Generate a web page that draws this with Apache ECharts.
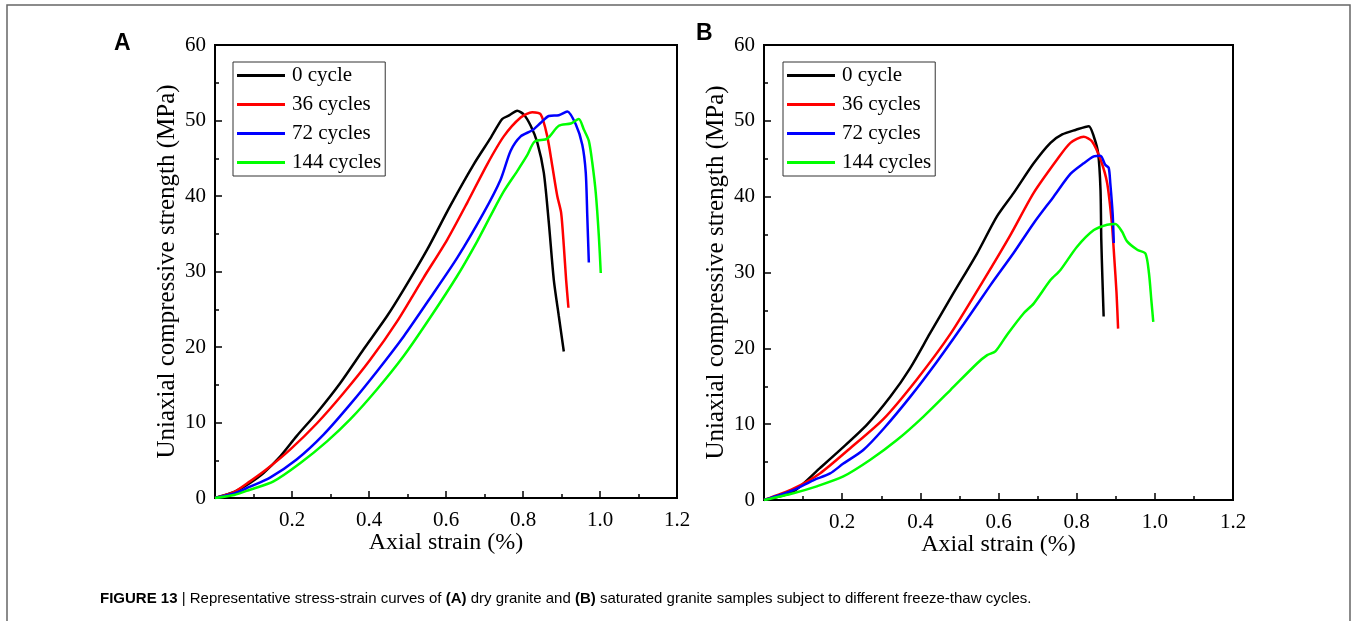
<!DOCTYPE html>
<html>
<head>
<meta charset="utf-8">
<script src="https://cdn.jsdelivr.net/npm/echarts@6/dist/echarts.min.js"></script>
<style>
html,body{margin:0;padding:0;background:#fff;}
#chart{width:1356px;height:621px;}
</style>
</head>
<body>
<div id="chart"></div>
<script>
// ---- Data (strain %, stress MPa) ----
const seriesNames = ['0 cycle', '36 cycles', '72 cycles', '144 cycles'];
const seriesColors = ['#000000', '#ff0000', '#0000ff', '#00ff00'];
const xTicks = [0.2, 0.4, 0.6, 0.8, 1.0, 1.2];
const yTicks = [0, 10, 20, 30, 40, 50, 60];

// Panel A: dry granite
const dry0 = [[0,0],[0.05,0.8],[0.091,2.0],[0.126,3.3],[0.169,5.5],[0.212,8.2],[0.265,11.3],[0.325,15.2],[0.386,19.7],[0.447,24.1],[0.49,27.6],[0.551,32.9],[0.611,38.7],[0.672,44.2],[0.716,47.7],[0.746,50.2],[0.765,50.7],[0.785,51.3],[0.802,50.8],[0.82,49.3],[0.837,47.1],[0.854,43.1],[0.867,36.5],[0.88,28.9],[0.893,24.1],[0.906,19.4]];
const dry36 = [[0,0],[0.05,0.8],[0.091,2.2],[0.134,3.8],[0.195,6.4],[0.265,9.9],[0.334,13.9],[0.403,18.3],[0.473,23.4],[0.542,29.2],[0.603,34.2],[0.655,39.1],[0.707,44.2],[0.75,47.9],[0.794,50.4],[0.824,51.1],[0.846,50.8],[0.863,47.9],[0.876,44.0],[0.889,40.0],[0.899,37.8],[0.906,33.4],[0.912,28.9],[0.918,25.2]];
const dry72 = [[0,0],[0.05,0.6],[0.091,1.5],[0.143,2.7],[0.212,5.1],[0.282,8.4],[0.351,12.4],[0.421,16.8],[0.49,21.4],[0.559,26.5],[0.629,31.8],[0.698,37.8],[0.742,42.2],[0.768,46.0],[0.794,47.9],[0.824,48.7],[0.846,49.7],[0.867,50.6],[0.893,50.7],[0.915,51.2],[0.937,49.5],[0.954,46.8],[0.963,43.1],[0.967,37.3],[0.971,31.2]];
const dry144 = [[0,0],[0.05,0.4],[0.091,1.1],[0.152,2.2],[0.221,4.6],[0.291,7.5],[0.351,10.4],[0.421,14.4],[0.49,18.8],[0.559,23.9],[0.629,29.4],[0.681,34.0],[0.716,37.4],[0.75,40.6],[0.785,43.3],[0.811,45.4],[0.83,47.2],[0.863,47.6],[0.893,49.3],[0.924,49.6],[0.945,50.2],[0.958,48.8],[0.971,47.3],[0.98,44.4],[0.989,40.4],[0.997,34.7],[1.002,29.8]];

// Panel B: saturated granite
const sat0 = [[0,0],[0.075,1.1],[0.143,4.2],[0.195,6.6],[0.263,9.9],[0.323,13.6],[0.374,17.4],[0.425,22.0],[0.485,27.3],[0.545,32.5],[0.596,37.4],[0.639,40.5],[0.69,44.4],[0.733,47.1],[0.763,48.2],[0.797,48.8],[0.831,49.3],[0.844,47.9],[0.855,45.7],[0.861,40.9],[0.863,34.3],[0.866,29.0],[0.869,24.2]];
const sat36 = [[0,0],[0.075,1.5],[0.143,3.5],[0.22,6.8],[0.306,10.7],[0.391,15.9],[0.477,21.9],[0.562,29.0],[0.63,34.9],[0.69,40.5],[0.75,44.9],[0.784,47.1],[0.818,47.9],[0.839,47.3],[0.861,44.9],[0.878,41.8],[0.89,36.5],[0.896,32.1],[0.902,27.3],[0.906,22.6]];
const sat72 = [[0,0],[0.075,1.3],[0.126,2.6],[0.169,3.5],[0.203,4.8],[0.254,6.6],[0.306,9.4],[0.374,13.6],[0.442,18.2],[0.511,23.2],[0.579,28.3],[0.639,32.6],[0.69,36.5],[0.741,40.0],[0.784,43.0],[0.818,44.4],[0.844,45.3],[0.861,45.4],[0.873,44.2],[0.882,43.8],[0.886,41.8],[0.892,37.8],[0.895,33.9]];
const sat144 = [[0,0],[0.075,0.9],[0.135,1.8],[0.203,3.1],[0.272,5.3],[0.34,7.9],[0.408,11.0],[0.477,14.5],[0.545,18.0],[0.571,19.1],[0.592,19.6],[0.622,21.8],[0.664,24.6],[0.69,25.9],[0.733,29.0],[0.758,30.3],[0.801,33.4],[0.844,35.6],[0.878,36.3],[0.899,36.4],[0.916,35.4],[0.929,34.1],[0.955,33.0],[0.976,32.5],[0.985,29.9],[0.991,26.4],[0.996,23.5]];

const panelA = [dry0, dry36, dry72, dry144];
const panelB = [sat0, sat36, sat72, sat144];

// ---- Chart ----
const serif = '"Liberation Serif", "Times New Roman", serif';
const chart = echarts.init(document.getElementById('chart'), null, {renderer: 'canvas'});

function xAxisCfg(gridIndex) {
  return {
    gridIndex, type: 'value', min: 0, max: 1.2, interval: 0.2,
    name: 'Axial strain (%)', nameLocation: 'middle', nameGap: 33, nameMoveOverlap: false,
    nameTextStyle: {fontFamily: serif, fontSize: 24, color: '#000'},
    axisLine: {show: true, onZero: false, lineStyle: {color: '#000', width: 2}},
    axisTick: {show: true, inside: true, length: 7, lineStyle: {color: '#000', width: 1.5}},
    minorTick: {show: true, splitNumber: 2, length: 4, lineStyle: {color: '#000', width: 1.5}},
    axisLabel: {fontFamily: serif, fontSize: 21, color: '#000', margin: 12,
      formatter: v => (xTicks.indexOf(Math.round(v * 10) / 10) >= 0 ? v.toFixed(1) : '')},
    splitLine: {show: false}
  };
}
function yAxisCfg(gridIndex) {
  return {
    gridIndex, type: 'value', min: 0, max: 60, interval: 10,
    name: 'Uniaxial compressive strength (MPa)', nameLocation: 'middle', nameGap: 35, nameMoveOverlap: false,
    nameTextStyle: {fontFamily: serif, fontSize: 25, color: '#000'},
    axisLine: {show: true, onZero: false, lineStyle: {color: '#000', width: 2}},
    axisTick: {show: true, inside: true, length: 7, lineStyle: {color: '#000', width: 1.5}},
    minorTick: {show: true, splitNumber: 2, length: 4, lineStyle: {color: '#000', width: 1.5}},
    axisLabel: {fontFamily: serif, fontSize: 21, color: '#000', margin: 9,
      formatter: v => (yTicks.indexOf(v) >= 0 ? String(v) : '')},
    splitLine: {show: false}
  };
}
function legendCfg(left) {
  return {
    data: seriesNames, orient: 'vertical', left: left, top: 62,
    backgroundColor: '#fff', borderColor: '#333', borderWidth: 1,
    padding: [3, 4, 3, 4], itemGap: 8, itemWidth: 48, itemHeight: 3, icon: 'rect',
    textStyle: {fontFamily: serif, fontSize: 21, lineHeight: 20, color: '#000', padding: [0, 0, 0, 2]},
    selectedMode: false
  };
}

const series = [];
[panelA, panelB].forEach((panel, p) => {
  panel.forEach((data, i) => {
    series.push({
      name: seriesNames[i], type: 'line', xAxisIndex: p, yAxisIndex: p,
      data: data, showSymbol: false, symbol: 'none', smooth: 0.25,
      lineStyle: {color: seriesColors[i], width: 2.5}, itemStyle: {color: seriesColors[i]},
      animation: false, z: 3
    });
  });
});

const captionFont = '"Liberation Sans", Arial, sans-serif';
const option = {
  backgroundColor: '#fff',
  animation: false,
  grid: [
    {left: 215, top: 45, width: 462, height: 453, show: true, borderColor: '#000', borderWidth: 2, backgroundColor: 'transparent'},
    {left: 764, top: 45, width: 469, height: 455, show: true, borderColor: '#000', borderWidth: 2, backgroundColor: 'transparent'}
  ],
  xAxis: [xAxisCfg(0), xAxisCfg(1)],
  yAxis: [yAxisCfg(0), yAxisCfg(1)],
  legend: [legendCfg(233), legendCfg(783)],
  series: series,
  graphic: [
    {type: 'rect', shape: {x: 7, y: 5, width: 1343, height: 640}, style: {fill: 'none', stroke: '#666', lineWidth: 1.5}, silent: true},
    {type: 'text', left: 114, top: 32, style: {text: 'A', font: 'bold 23px "Liberation Sans", Arial, sans-serif', fill: '#000'}},
    {type: 'text', left: 696, top: 22, style: {text: 'B', font: 'bold 23px "Liberation Sans", Arial, sans-serif', fill: '#000'}},
    {type: 'text', left: 100, top: 591, style: {
      text: '{b|FIGURE 13} {n|| Representative stress-strain curves of} {b|(A)} {n|dry granite and} {b|(B)} {n|saturated granite samples subject to different freeze-thaw cycles.}',
      rich: {
        b: {fontFamily: captionFont, fontWeight: 'bold', fontSize: 15, fill: '#000'},
        n: {fontFamily: captionFont, fontSize: 15, fill: '#000'}
      },
      fontFamily: captionFont, fontSize: 15, fill: '#000'
    }}
  ]
};
chart.setOption(option);
</script>
</body>
</html>
